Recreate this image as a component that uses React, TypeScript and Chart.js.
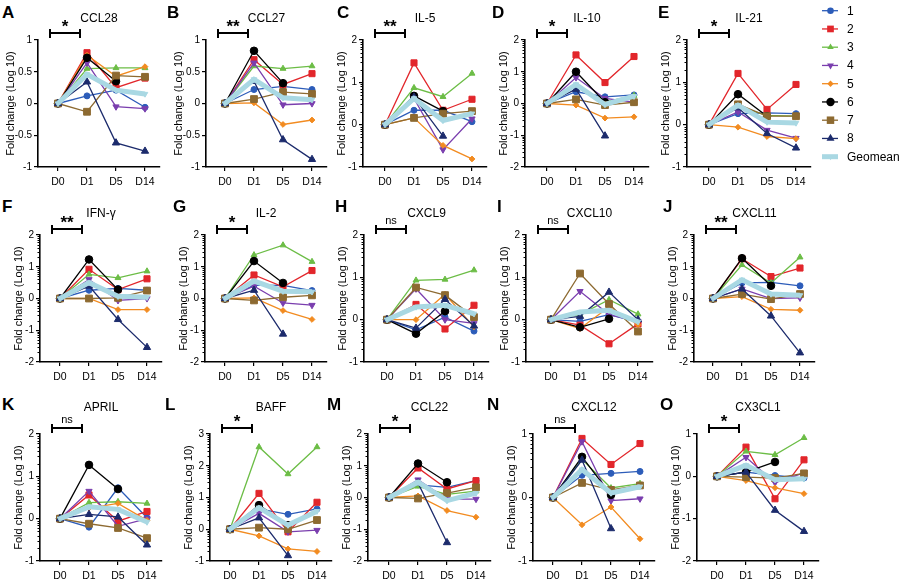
import React, { useEffect, useRef } from "react";
import { Chart, registerables } from "chart.js";

Chart.register(...registerables);

const FONT = "'Liberation Sans', Arial, Helvetica, sans-serif";
Chart.defaults.font.family = FONT;

const DAYS = ["D0", "D1", "D5", "D14"];
const SERIES = ["1", "2", "3", "4", "5", "6", "7", "8", "Geomean"];
const Y_TITLE = "Fold change (Log 10)";

type V = number | null;

// rows = series 1..8, Geomean ; columns = D0, D1, D5, D14
const CCL28: V[][] = [
  [0, 0.12, 0.21, -0.06],
  [0, 0.8, 0.25, 0.4],
  [0, 0.55, 0.56, 0.56],
  [0, 0.64, -0.05, -0.08],
  [0, 0.76, 0.43, 0.58],
  [0, 0.72, 0.35, null],
  [0, -0.13, 0.44, 0.42],
  [0, 0.34, -0.62, -0.75],
  [0, 0.46, 0.21, 0.15],
];
const CCL27: V[][] = [
  [0, 0.22, 0.27, 0.22],
  [0, 0.69, 0.3, 0.47],
  [0, 0.59, 0.55, 0.59],
  [0, 0.64, -0.02, 0],
  [0, 0.01, -0.33, -0.26],
  [0, 0.83, 0.32, null],
  [0, 0.07, 0.18, 0.15],
  [0, 0.35, -0.57, -0.88],
  [0, 0.38, 0.09, 0.06],
];
const IL5: V[][] = [
  [0, 0.34, 0.34, 0.07],
  [0, 1.46, 0.34, 0.6],
  [0, 0.87, 0.66, 1.21],
  [0, 0.62, -0.59, 0.14],
  [0, 0.16, -0.49, -0.81],
  [0, 0.68, 0.32, null],
  [0, 0.16, 0.26, 0.32],
  [0, 0.65, -0.27, null],
  [0, 0.62, 0.1, 0.26],
];
const IL10: V[][] = [
  [0, 0.37, 0.21, 0.27],
  [0, 1.53, 0.66, 1.48],
  [0, 0.55, 0.05, 0.25],
  [0, 0.82, 0.16, 0.04],
  [0, -0.05, -0.46, -0.42],
  [0, 1.0, 0.04, null],
  [0, 0.13, -0.05, 0.04],
  [0, 0.45, -1.02, null],
  [0, 0.6, -0.03, 0.23],
];
const IL21: V[][] = [
  [0, 0.26, 0.28, 0.26],
  [0, 1.21, 0.36, 0.95],
  [0, 0.43, 0.22, 0.2],
  [0, 0.3, -0.13, -0.32],
  [0, -0.06, -0.28, -0.33],
  [0, 0.72, 0.2, null],
  [0, 0.48, 0.2, 0.2],
  [0, 0.4, -0.21, -0.55],
  [0, 0.46, 0.06, 0.04],
];
const IFNG: V[][] = [
  [0, 0.26, 0.32, 0.26],
  [0, 0.92, 0.28, 0.62],
  [0, 0.76, 0.65, 0.86],
  [0, 0.6, -0.06, 0],
  [0, 0, -0.35, -0.35],
  [0, 1.23, 0.28, null],
  [0, 0, 0.02, 0.25],
  [0, 0.39, -0.66, -1.54],
  [0, 0.5, 0.07, 0.04],
];
const IL2: V[][] = [
  [0, 0.42, 0.41, 0.25],
  [0, 0.74, 0.37, 0.88],
  [0, 1.37, 1.68, 1.16],
  [0, 0.39, -0.14, -0.21],
  [0, 0.02, -0.38, -0.66],
  [0, 1.18, 0.49, null],
  [0, -0.06, 0.04, 0.1],
  [0, 0.26, -1.12, null],
  [0, 0.55, 0.23, 0.21],
];
const CXCL9: V[][] = [
  [0, -0.24, 0.06, -0.27],
  [0, 0.36, -0.22, 0.34],
  [0, 0.93, 0.95, 1.17],
  [0, 0.73, 0, -0.09],
  [0, 0, 0.6, -0.17],
  [0, -0.33, 0.2, null],
  [0, 0.76, 0.58, 0.06],
  [0, -0.2, 0.48, -0.15],
  [0, 0.3, 0.34, 0.14],
];
const CXCL10: V[][] = [
  [0, -0.04, 0.12, -0.06],
  [0, -0.13, -0.57, -0.1],
  [0, 0.12, 0.47, 0.13],
  [0, 0.67, 0.12, -0.04],
  [0, -0.21, 0.3, -0.12],
  [0, -0.18, 0.02, null],
  [0, 1.09, 0.37, -0.28],
  [0, 0.08, 0.65, 0],
  [0, 0.18, 0.22, -0.05],
];
const CXCL11: V[][] = [
  [0, 0.49, 0.51, 0.4],
  [0, 1.25, 0.69, 0.96],
  [0, 1.06, 0.49, 1.3],
  [0, 0.3, 0, 0.02],
  [0, 0.06, -0.34, -0.37],
  [0, 1.27, 0.4, null],
  [0, 0.14, -0.02, 0.14],
  [0, 0.3, -0.55, -1.71],
  [0, 0.59, 0.14, 0.1],
];
const APRIL: V[][] = [
  [0, -0.2, 0.73, 0.02],
  [0, 0.56, -0.06, 0.17],
  [0, 0.38, 0.4, 0.36],
  [0, 0.65, -0.18, 0],
  [0, 0.25, 0.36, -0.04],
  [0, 1.27, 0.7, null],
  [0, -0.12, -0.22, -0.46],
  [0, 0.1, 0.04, -0.62],
  [0, 0.28, 0.22, -0.08],
];
const BAFF: V[][] = [
  [0, 0.64, 0.47, 0.64],
  [0, 1.13, -0.08, 0.85],
  [0, 2.59, 1.74, 2.59],
  [0, 0.5, -0.08, -0.03],
  [0, -0.21, -0.62, -0.7],
  [0, 0.76, 0.13, null],
  [0, 0.05, 0, 0.29],
  [0, 0.36, -0.83, null],
  [0, 0.68, 0.13, 0.57],
];
const CCL22: V[][] = [
  [0, 0.4, 0.32, 0.53],
  [0, 0.93, 0.27, 0.53],
  [0, 0.35, 0.1, 0.2],
  [0, 0.56, -0.05, -0.05],
  [0, 0.05, -0.41, -0.62],
  [0, 1.07, 0.48, null],
  [0, -0.03, 0.14, 0.32],
  [0, 0.46, -1.42, null],
  [0, 0.48, -0.1, 0.14],
];
const CXCL12: V[][] = [
  [0, 0.35, 0.38, 0.41],
  [0, 0.93, 0.52, 0.85],
  [0, 0.6, 0.15, 0.22],
  [0, 0.88, -0.05, -0.02],
  [0, -0.43, -0.15, -0.65],
  [0, 0.64, 0.04, null],
  [0, 0.23, 0.12, 0.19],
  [0, 0.59, -0.49, null],
  [0, 0.44, 0.07, 0.17],
];
const CX3CL1: V[][] = [
  [0, 0.1, 0.02, -0.04],
  [0, 0.69, -0.53, 0.39],
  [0, 0.59, 0.51, 0.91],
  [0, 0.45, -0.15, 0.08],
  [0, -0.1, -0.27, -0.41],
  [0, 0.1, 0.34, null],
  [0, -0.02, -0.04, 0.07],
  [0, 0.1, -0.8, -1.3],
  [0, 0.26, -0.08, -0.06],
];

// ---------- styles ----------
type SeriesStyle = { color: string; point: string; radius: number; rot: number; width: number };
const STYLES: SeriesStyle[] = [
  { color: "#2c5cb9", point: "circle", radius: 3, rot: 0, width: 1.3 },
  { color: "#e2262b", point: "rect", radius: 4.3, rot: 0, width: 1.3 },
  { color: "#6cbd46", point: "triangle", radius: 3.4, rot: 0, width: 1.3 },
  { color: "#7a3eae", point: "triangle", radius: 3.6, rot: 180, width: 1.3 },
  { color: "#f28b20", point: "rectRot", radius: 2.9, rot: 0, width: 1.3 },
  { color: "#000000", point: "circle", radius: 3.8, rot: 0, width: 1.3 },
  { color: "#8d6a31", point: "rect", radius: 4.8, rot: 0, width: 1.3 },
  { color: "#1c2b6c", point: "triangle", radius: 4.2, rot: 0, width: 1.3 },
  { color: "#a9d8e3", point: "triangle", radius: 3.2, rot: 180, width: 5 },
];

// ---------- layout ----------
type Row = { plotTop: number; titleY: number; letterY: number; bracketY: number; sigY: number };
const ROWS: Row[] = [
  { plotTop: 40, titleY: 17.5, letterY: 12.5, bracketY: 33, sigY: 24 },
  { plotTop: 235, titleY: 212.7, letterY: 207, bracketY: 229.3, sigY: 220 },
  { plotTop: 434, titleY: 406.7, letterY: 405, bracketY: 428.3, sigY: 418.5 },
];
const PLOT_H = 127;
const PAD_T = 12;
const PAD_R = 10;
const X_H = 24;
const SPACING = 29;
const RIGHT_EXT = 15;

type Panel = {
  letter: string; title: string; sig: string; data: V[][];
  yMin: number; yMax: number; yStep: number; minor: boolean;
  row: number; axisX: number; d0X: number; titleGap: number; letterX: number;
};

const PANELS: Panel[] = [
  { letter: "A", title: "CCL28", sig: "*", data: CCL28, yMin: -1, yMax: 1, yStep: 0.5, minor: false, row: 0, axisX: 38, d0X: 58, titleGap: 27, letterX: 2 },
  { letter: "B", title: "CCL27", sig: "**", data: CCL27, yMin: -1, yMax: 1, yStep: 0.5, minor: false, row: 0, axisX: 206, d0X: 225, titleGap: 27, letterX: 167 },
  { letter: "C", title: "IL-5", sig: "**", data: IL5, yMin: -1, yMax: 2, yStep: 1, minor: true, row: 0, axisX: 363, d0X: 385, titleGap: 21, letterX: 337 },
  { letter: "D", title: "IL-10", sig: "*", data: IL10, yMin: -2, yMax: 2, yStep: 1, minor: true, row: 0, axisX: 525, d0X: 547, titleGap: 21, letterX: 492 },
  { letter: "E", title: "IL-21", sig: "*", data: IL21, yMin: -1, yMax: 2, yStep: 1, minor: true, row: 0, axisX: 687, d0X: 709, titleGap: 21, letterX: 658 },
  { letter: "F", title: "IFN-γ", sig: "**", data: IFNG, yMin: -2, yMax: 2, yStep: 1, minor: true, row: 1, axisX: 40, d0X: 60, titleGap: 21, letterX: 2 },
  { letter: "G", title: "IL-2", sig: "*", data: IL2, yMin: -2, yMax: 2, yStep: 1, minor: true, row: 1, axisX: 205, d0X: 225, titleGap: 21, letterX: 173 },
  { letter: "H", title: "CXCL9", sig: "ns", data: CXCL9, yMin: -1, yMax: 2, yStep: 1, minor: true, row: 1, axisX: 364, d0X: 387, titleGap: 21, letterX: 335 },
  { letter: "I", title: "CXCL10", sig: "ns", data: CXCL10, yMin: -1, yMax: 2, yStep: 1, minor: true, row: 1, axisX: 526, d0X: 551, titleGap: 21, letterX: 497 },
  { letter: "J", title: "CXCL11", sig: "**", data: CXCL11, yMin: -2, yMax: 2, yStep: 1, minor: true, row: 1, axisX: 694, d0X: 713, titleGap: 21, letterX: 663 },
  { letter: "K", title: "APRIL", sig: "ns", data: APRIL, yMin: -1, yMax: 2, yStep: 1, minor: true, row: 2, axisX: 40, d0X: 60, titleGap: 21, letterX: 2 },
  { letter: "L", title: "BAFF", sig: "*", data: BAFF, yMin: -1, yMax: 3, yStep: 1, minor: true, row: 2, axisX: 210, d0X: 230, titleGap: 21, letterX: 165 },
  { letter: "M", title: "CCL22", sig: "*", data: CCL22, yMin: -2, yMax: 2, yStep: 1, minor: true, row: 2, axisX: 368, d0X: 389, titleGap: 21, letterX: 327 },
  { letter: "N", title: "CXCL12", sig: "ns", data: CXCL12, yMin: -1, yMax: 1, yStep: 1, minor: true, row: 2, axisX: 533, d0X: 553, titleGap: 21, letterX: 487 },
  { letter: "O", title: "CX3CL1", sig: "*", data: CX3CL1, yMin: -2, yMax: 1, yStep: 1, minor: false, row: 2, axisX: 697, d0X: 717, titleGap: 21, letterX: 660 },
];

// log-style minor ticks on the y axis (Prism style)
const minorTicksPlugin = {
  id: "minorTicks",
  afterDraw(chart: any, _args: any, opts: any) {
    if (!opts || !opts.show) return;
    const y = chart.scales.y;
    const ctx = chart.ctx;
    const left = chart.chartArea.left;
    ctx.save();
    ctx.strokeStyle = "#000";
    ctx.lineWidth = 1;
    for (let k = Math.floor(y.min); k < y.max; k++) {
      for (let j = 2; j <= 9; j++) {
        const v = k + Math.log10(j);
        if (v <= y.min || v >= y.max) continue;
        const py = Math.round(y.getPixelForValue(v)) + 0.5;
        ctx.beginPath();
        ctx.moveTo(left - 2.5, py);
        ctx.lineTo(left, py);
        ctx.stroke();
      }
    }
    ctx.restore();
  },
};
Chart.register(minorTicksPlugin);

function PanelChart({ p }: { p: Panel }) {
  const ref = useRef<HTMLCanvasElement>(null);
  const yW = p.titleGap + 7;
  const areaW = p.d0X - p.axisX + 3 * SPACING + RIGHT_EXT;
  const cw = Math.round(yW + areaW + PAD_R);
  const ch = PAD_T + PLOT_H + X_H;
  const left = p.axisX - yW;
  const top = ROWS[p.row].plotTop - PAD_T;

  useEffect(() => {
    const yTicks: number[] = [];
    for (let v = p.yMin; v <= p.yMax + 1e-9; v += p.yStep) yTicks.push(Math.round(v * 100) / 100);
    const datasets = p.data.map((vals, si) => {
      const st = STYLES[si];
      return {
        label: SERIES[si],
        data: vals.map((v, i) => ({ x: i, y: v })),
        borderColor: st.color,
        backgroundColor: st.color,
        borderWidth: st.width,
        pointStyle: st.point as any,
        pointRadius: st.radius,
        pointRotation: st.rot,
        pointBorderWidth: 1,
        pointBorderColor: st.color,
        pointBackgroundColor: st.color,
        tension: 0,
        spanGaps: false,
        clip: false as any,
        order: si === 8 ? -1 : 8 - si,
      };
    });
    const chart = new Chart(ref.current as HTMLCanvasElement, {
      type: "line",
      data: { datasets } as any,
      options: {
        animation: false,
        responsive: false,
        maintainAspectRatio: false,
        devicePixelRatio: 1,
        events: [],
        layout: { padding: { top: PAD_T, right: PAD_R, left: 0, bottom: 0 } },
        plugins: {
          legend: { display: false },
          tooltip: { enabled: false },
          minorTicks: { show: p.minor },
        } as any,
        scales: {
          x: {
            type: "linear",
            min: -(p.d0X - p.axisX) / SPACING,
            max: 3 + RIGHT_EXT / SPACING,
            afterBuildTicks: (s: any) => {
              s.ticks = DAYS.map((_, i) => ({ value: i }));
            },
            afterFit: (s: any) => {
              s.height = X_H;
            },
            ticks: {
              autoSkip: false,
              maxRotation: 0,
              padding: 5,
              color: "#000",
              font: { size: 10.5, family: FONT },
              callback: (v: any) => DAYS[v] ?? "",
            },
            grid: { display: true, drawOnChartArea: false, drawTicks: true, tickLength: 4, color: "#000", lineWidth: 1.2 },
            border: { display: true, color: "#000", width: 1.6 },
          },
          y: {
            type: "linear",
            min: p.yMin,
            max: p.yMax,
            afterBuildTicks: (s: any) => {
              s.ticks = yTicks.map((v) => ({ value: v }));
            },
            afterFit: (s: any) => {
              s.width = yW;
            },
            ticks: {
              padding: 2,
              color: "#000",
              font: { size: 10, family: FONT },
              callback: (v: any) => String(v),
            },
            grid: { display: true, drawOnChartArea: false, drawTicks: true, tickLength: 4, color: "#000", lineWidth: 1.2 },
            border: { display: true, color: "#000", width: 1.6 },
            title: { display: true, text: Y_TITLE, color: "#000", padding: 0, font: { size: 11, family: FONT } },
          },
        },
      } as any,
    });
    return () => chart.destroy();
  }, []);

  return (
    <canvas
      ref={ref}
      width={cw}
      height={ch}
      style={{ position: "absolute", left, top, width: cw, height: ch }}
    />
  );
}

function PanelText({ p }: { p: Panel }) {
  const r = ROWS[p.row];
  const areaW = p.d0X - p.axisX + 3 * SPACING + RIGHT_EXT;
  const bx = p.axisX + 11;
  const bw = 32;
  const isNs = p.sig === "ns";
  return (
    <>
      <div style={{ position: "absolute", left: p.letterX, top: r.letterY - 10, fontSize: 17, fontWeight: 700, lineHeight: "20px", color: "#000" }}>
        {p.letter}
      </div>
      <div style={{ position: "absolute", left: p.axisX, width: areaW, top: r.titleY - 7, fontSize: 12, lineHeight: "14px", textAlign: "center", color: "#000" }}>
        {p.title}
      </div>
      <div style={{ position: "absolute", left: bx, top: r.bracketY - 4.5, width: bw, height: 9, borderLeft: "2px solid #000", borderRight: "2px solid #000", boxSizing: "border-box" }}>
        <div style={{ position: "absolute", left: 0, right: 0, top: 3.5, height: 2, background: "#000" }} />
      </div>
      <div
        style={{
          position: "absolute",
          left: bx,
          width: bw,
          textAlign: "center",
          top: isNs ? r.sigY - 7 : r.sigY - 4,
          fontSize: isNs ? 11 : 17,
          fontWeight: isNs ? 400 : 700,
          lineHeight: "14px",
          color: "#000",
        }}
      >
        {p.sig}
      </div>
    </>
  );
}

function markerSvg(si: number, cx: number, cy: number) {
  const st = STYLES[si];
  const r = st.radius * 1.1;
  if (st.point === "circle") return <circle cx={cx} cy={cy} r={r} fill={st.color} />;
  if (st.point === "rect") {
    const h = r * Math.SQRT1_2;
    return <rect x={cx - h} y={cy - h} width={2 * h} height={2 * h} fill={st.color} />;
  }
  if (st.point === "rectRot") {
    return <polygon points={`${cx},${cy - r} ${cx + r},${cy} ${cx},${cy + r} ${cx - r},${cy}`} fill={st.color} />;
  }
  const s = st.rot === 180 ? -1 : 1;
  const pts = [
    [cx, cy - s * r],
    [cx + 0.866 * r, cy + s * 0.5 * r],
    [cx - 0.866 * r, cy + s * 0.5 * r],
  ];
  return <polygon points={pts.map((q) => q.join(",")).join(" ")} fill={st.color} />;
}

function Legend() {
  const x0 = 815;
  const items = SERIES.map((name, i) => ({ name, y: 10.7 + i * 18.25, i }));
  return (
    <>
      <svg style={{ position: "absolute", left: x0, top: 0 }} width={30} height={175}>
        {items.map((it) => (
          <g key={it.name}>
            <line x1={7} x2={23} y1={it.y} y2={it.y} stroke={STYLES[it.i].color} strokeWidth={STYLES[it.i].width} />
            {markerSvg(it.i, 15.5, it.y)}
          </g>
        ))}
      </svg>
      {items.map((it) => (
        <div key={"t" + it.name} style={{ position: "absolute", left: 847, top: it.y - 7, fontSize: 12, lineHeight: "14px", color: "#000" }}>
          {it.name}
        </div>
      ))}
    </>
  );
}

export default function App() {
  return (
    <div
      style={{
        position: "absolute",
        left: 0,
        top: 0,
        width: 900,
        height: 581,
        overflow: "hidden",
        background: "#fff",
        fontFamily: FONT,
      }}
    >
      {PANELS.map((p) => (
        <PanelChart key={p.letter} p={p} />
      ))}
      {PANELS.map((p) => (
        <PanelText key={"txt" + p.letter} p={p} />
      ))}
      <Legend />
    </div>
  );
}
